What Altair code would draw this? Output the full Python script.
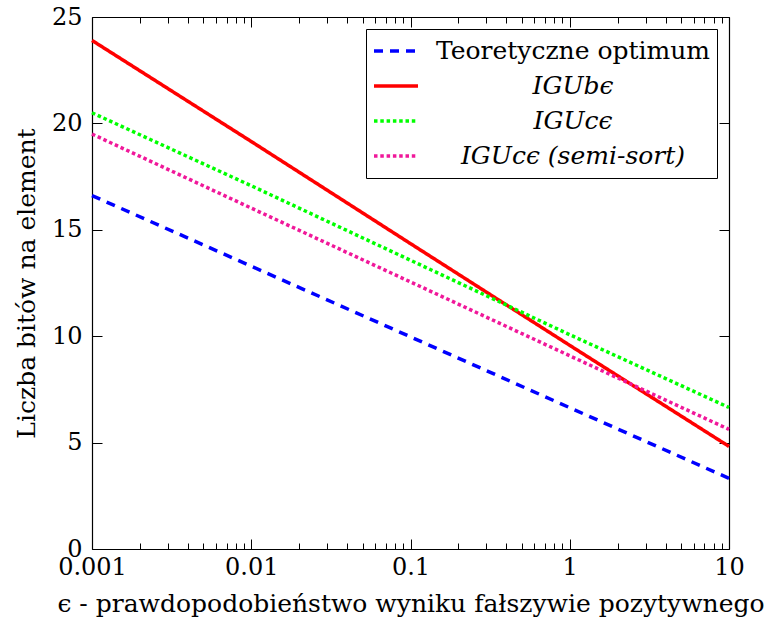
import altair as alt
import pandas as pd

eps = [0.001, 0.01, 0.1, 1, 10]
series_names = ["Teoretyczne optimum", "IGUbϵ", "IGUcϵ", "IGUcϵ (semi-sort)"]
optimum = [16.61, 13.29, 9.97, 6.64, 3.32]
igub = [23.9, 19.15, 14.35, 9.57, 4.82]
iguc = [20.5, 17.07, 13.57, 10.07, 6.65]
iguc_semi = [19.5, 16.02, 12.55, 9.08, 5.62]
colors = ["#0000ff", "#ff0000", "#00ff00", "#f0189a"]
dashes = [[9, 7], [1, 0], [3.5, 2.8], [3.5, 2.8]]

x_major = [0.001, 0.01, 0.1, 1, 10]
x_minor = [m * d for d in [0.001, 0.01, 0.1, 1] for m in range(2, 10)]
y_major = [0, 5, 10, 15, 20, 25]

rows = []
for name, vals in zip(series_names, [optimum, igub, iguc, iguc_semi]):
    for e, v in zip(eps, vals):
        rows.append({"eps": e, "bits": v, "series": name})
df = pd.DataFrame(rows)

W, H = 637, 532
FONT = "DejaVu Serif"
FS = 25


def xscale():
    return alt.Scale(type="log", domain=[0.001, 10], nice=False)


def yscale():
    return alt.Scale(domain=[0, 25], nice=False, zero=False)


base = alt.Chart(df)

lines = base.mark_line(strokeWidth=3.5, strokeCap="butt").encode(
    x=alt.X("eps:Q", scale=xscale(),
            axis=alt.Axis(values=x_major, ticks=False, grid=False, domainColor="black",
                          domainWidth=1.2, labelFont=FONT, labelFontSize=24, labelColor="black",
                          labelPadding=6, labelFlush=False, labelExpr="datum.value",
                          title="ϵ - prawdopodobieństwo wyniku fałszywie pozytywnego",
                          titleFont=FONT, titleFontSize=FS, titleFontWeight="normal",
                          titleColor="black", titlePadding=12)),
    y=alt.Y("bits:Q", scale=yscale(),
            axis=alt.Axis(values=y_major, ticks=False, grid=False, domainColor="black",
                          domainWidth=1.2, labelFont=FONT, labelFontSize=24, labelColor="black",
                          labelPadding=10, labelFlush=False,
                          title="Liczba bitów na element", titleFont=FONT, titleFontSize=FS,
                          titleFontWeight="normal", titleColor="black", titlePadding=12)),
    color=alt.Color("series:N", scale=alt.Scale(domain=series_names, range=colors),
                    sort=series_names,
                    legend=alt.Legend(title=None, orient="top-right", offset=12,
                                      strokeColor="black", fillColor="white", padding=6,
                                      symbolType="stroke", symbolSize=1936, symbolStrokeWidth=3.5,
                                      labelFont=FONT, labelFontSize=FS, labelColor="black",
                                      labelAlign="center", labelOffset=153, labelLimit=500,
                                      clipHeight=32, rowPadding=3,
                                      labelFontStyle=alt.ExprRef("datum.label == 'Teoretyczne optimum' ? 'normal' : 'italic'"),
                                      cornerRadius=0)),
    strokeDash=alt.StrokeDash("series:N", scale=alt.Scale(domain=series_names, range=dashes),
                              sort=series_names, legend=None),
)


def tick_layer(orient, offset, values, size, channel, domain=False):
    ax = alt.Axis(orient=orient, offset=offset, values=values, tickSize=size, tickColor="black",
                  tickWidth=1, labels=False, grid=False, title=None, domain=domain,
                  domainColor="black", domainWidth=1.2)
    if channel == "x":
        enc = dict(x=alt.X("eps:Q", scale=xscale(), axis=ax),
                   y=alt.Y("bits:Q", scale=yscale(), axis=None))
    else:
        enc = dict(x=alt.X("eps:Q", scale=xscale(), axis=None),
                   y=alt.Y("bits:Q", scale=yscale(), axis=ax))
    return base.mark_point(opacity=0, size=1).encode(**enc)


layers = [
    lines,
    tick_layer("top", -H, x_major, 10, "x"),
    tick_layer("top", -H, x_minor, 6, "x"),
    tick_layer("bottom", -H, x_major, 10, "x", domain=True),
    tick_layer("bottom", -H, x_minor, 6, "x"),
    tick_layer("right", -W, y_major, 10, "y"),
    tick_layer("left", -W, y_major, 10, "y", domain=True),
]

chart = alt.layer(*layers).resolve_scale(
    x="independent", y="independent"
).resolve_axis(x="independent", y="independent").properties(
    width=W, height=H,
    autosize=alt.AutoSizeParams(type="none"),
    padding={"left": 92, "top": 17, "right": 37, "bottom": 77},
).configure_view(stroke=None)

chart.save("out.html", embed_options={"renderer": "svg", "actions": False})
